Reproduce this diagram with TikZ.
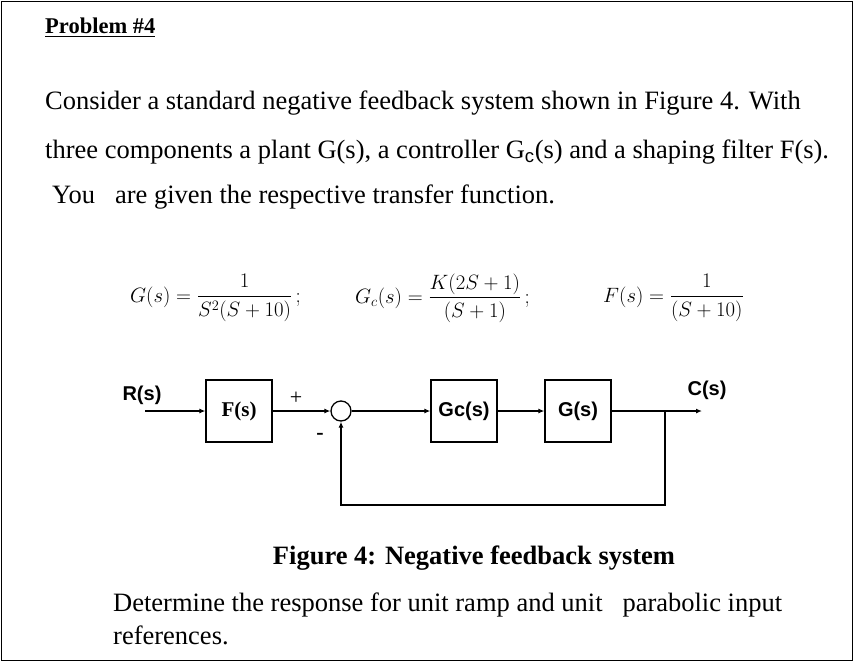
\documentclass[tikz,border=0pt]{standalone}
\usepackage{amsmath}
\usepackage{fontspec}
\setmainfont{Liberation Serif}
\newfontfamily\arialf{Liberation Sans}
\usetikzlibrary{arrows.meta}
\begin{document}
\begin{tikzpicture}[x=1pt,y=-1pt,
  blk/.style={draw,line width=1.3pt,minimum width=66pt,minimum height=62pt,inner sep=0pt},
  ln/.style={line width=1.3pt},
  ar/.style={ln,-{Latex[length=6pt,width=5pt]}},
  lbl/.style={font=\arialf\bfseries\fontsize{20}{22}\selectfont},
  txt/.style={anchor=west,inner sep=0pt,font=\fontsize{26.5}{30}\selectfont}]
\useasboundingbox (0,0) rectangle (856,664);
\draw[line width=0.8pt] (1.5,1.5) rectangle (852,660);
\node[txt,font=\fontsize{22.5}{26}\selectfont\bfseries] (title) at (45,28) {\underline{Problem \#4}};
\node[txt] (l1) at (45,103) {Consider a standard negative feedback system shown in Figure 4. With};
\node[txt] (l2) at (45,152) {three components a plant G(s), a controller G\textsubscript{\arialf c}(s) and a shaping filter F(s).};
\node[txt] (l3) at (52,197) {You\ \ \ are given the respective transfer function.};
\node[txt,font=\fontsize{19.5}{22}\selectfont] (eq1) at (130,298) {$G(s)=\dfrac{1}{S^2(S+10)}\,;$};
\node[txt,font=\fontsize{19.5}{22}\selectfont] (eq2) at (355,298) {$G_c(s)=\dfrac{K(2S+1)}{(S+1)}\,;$};
\node[txt,font=\fontsize{19.5}{22}\selectfont] (eq3) at (603,298) {$F(s)=\dfrac{1}{(S+10)}$};
% block diagram
\node[lbl] (R) at (142,395) {R(s)};
\node[blk,font=\bfseries\fontsize{21}{24}\selectfont] (F) at (239,411) {F(s)};
\node[draw,circle,line width=1.3pt,minimum size=20pt,inner sep=0pt] (S) at (341,411) {};
\node[blk,lbl] (Gc) at (464,411) {Gc(s)};
\node[blk,lbl] (G) at (578,411) {G(s)};
\node[lbl] (C) at (707,390) {C(s)};
\node[font=\fontsize{22}{24}\selectfont] (plus) at (296,398) {+};
\node[font=\fontsize{22}{24}\selectfont\bfseries] (minus) at (320,436) {-};
\coordinate (in) at (145,411);
\coordinate (out) at (702,411);
\coordinate (br) at (665,411);
\coordinate (b1) at (665,505);
\coordinate (b2) at (341,505);
\draw[ar] (in) -- (F.west);
\draw[ar] (F.east) -- (S.west);
\draw[ar] (S.east) -- (Gc.west);
\draw[ar] (Gc.east) -- (G.west);
\draw[ar] (G.east) -- (out);
\draw[ar] (br) -- (b1) -- (b2) -- (S.south);
\node[font=\fontsize{26.5}{30}\selectfont\bfseries] (cap) at (474,558) {Figure 4: Negative feedback system};
\node[txt] (d1) at (113,605) {Determine the response for unit ramp and unit\ \ \ parabolic input};
\node[txt] (d2) at (113,635) {references.};
\end{tikzpicture}
\end{document}
